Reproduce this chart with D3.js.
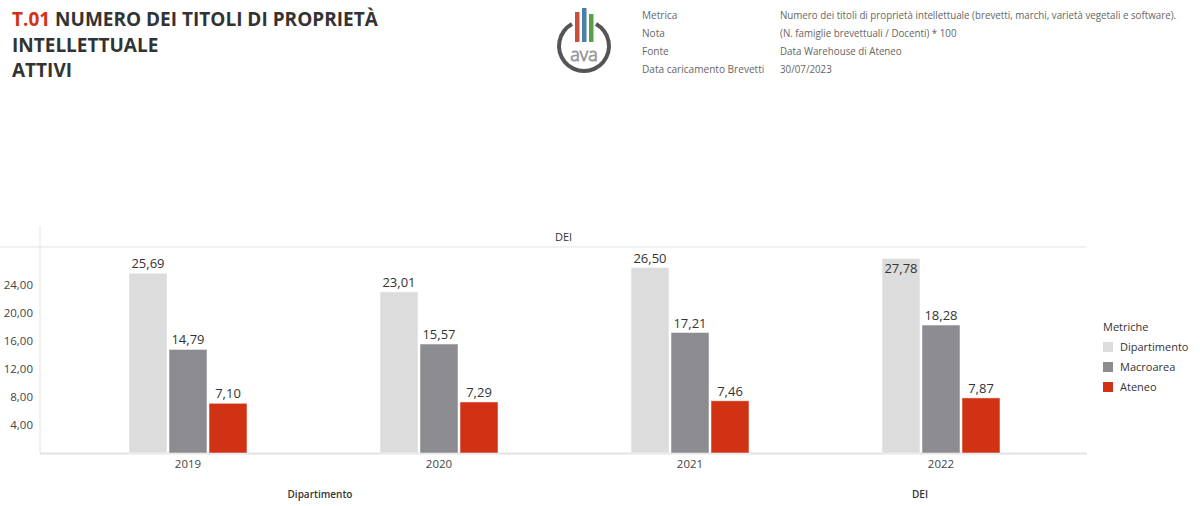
<!DOCTYPE html>
<html><head><meta charset="utf-8">
<script src="https://cdn.jsdelivr.net/npm/d3@7"></script>
<style>body{margin:0;background:#fff;font-family:"Open Sans",sans-serif;}</style>
</head><body><svg id="c" width="1200" height="506"></svg>
<script>
const years = ["2019","2020","2021","2022"];
const metrics = ["Dipartimento","Macroarea","Ateneo"];
const dipartimento = [25.69, 23.01, 26.50, 27.78];
const macroarea = [14.79, 15.57, 17.21, 18.28];
const ateneo = [7.10, 7.29, 7.46, 7.87];
const yTicks = [4, 8, 12, 16, 20, 24];
const colors = ["#dcdcdc", "#8c8c90", "#d13214"];
const metaLabels = ["Metrica","Nota","Fonte","Data caricamento Brevetti"];
const metaValues = ["Numero dei titoli di proprietà intellettuale (brevetti, marchi, varietà vegetali e software).","(N. famiglie brevettuali / Docenti) * 100","Data Warehouse di Ateneo","30/07/2023"];

(function(){
const series = [dipartimento, macroarea, ateneo];
const data = years.map((yr,i)=>({year:yr, vals: metrics.map((m,j)=>({metric:m, idx:j, v:series[j][i]}))}));
const fmt = v => d3.format(".2f")(v).replace(".", ",");

const svg = d3.select("#c");

// Title
const t = svg.append("g").attr("font-weight",700).attr("font-size",19).attr("fill","#333");
const l1 = t.append("text").attr("x",12).attr("y",26);
l1.append("tspan").attr("fill","#d13214").text("T.01");
l1.append("tspan").text(" NUMERO DEI TITOLI DI PROPRIETÀ");
t.append("text").attr("x",12).attr("y",52).text("INTELLETTUALE");
t.append("text").attr("x",12).attr("y",77).text("ATTIVI");

// Logo
const lg = svg.append("g");
const cx=584, cy=46, r=25;
lg.append("path").attr("d", d3.arc()({innerRadius:r-2, outerRadius:r+2, startAngle:0.5, endAngle:2*Math.PI-0.5}))
  .attr("transform",`translate(${cx},${cy})`).attr("fill","#555");
[["#c8503a",577,12],["#4a7fa8",584,8],["#5aa04a",591,14]].forEach(([c,x,y0])=>{
  lg.append("rect").attr("x",x-2).attr("y",y0).attr("width",4.5).attr("height",42-y0).attr("fill",c);
});
lg.append("text").attr("x",cx).attr("y",cy+15).attr("text-anchor","middle").attr("font-size",18)
  .attr("fill","none").attr("stroke","#999").attr("stroke-width",0.9).attr("font-weight",300).text("ava");

// Meta
const meta = svg.append("g").attr("font-size",10.5).attr("fill","#666");
metaLabels.forEach((l,i)=>{
  const yy = 19+i*18;
  meta.append("text").attr("transform",`translate(642,${yy}) scale(0.96,1)`).text(l);
  meta.append("text").attr("transform",`translate(780,${yy}) scale(0.93,1)`).text(metaValues[i]);
});

// Chart
const pL=40, pR=1087, pT=247, pB=453;
const y = d3.scaleLinear().domain([0, (pB-pT)/7]).range([pB, pT]);
const x0 = d3.scaleBand().domain(years).range([62.5, 1066.5]);
const bw = 38, gap = 2;
const x1 = d3.scaleBand().domain(metrics).range([x0.bandwidth()/2 - (3*bw+2*gap)/2, x0.bandwidth()/2 + (3*bw+2*gap)/2]).paddingInner(gap/(bw+gap));

svg.append("line").attr("x1",0).attr("x2",pR).attr("y1",pT).attr("y2",pT).attr("stroke","#e3e3e3");
svg.append("line").attr("x1",pL).attr("x2",pL).attr("y1",226).attr("y2",pB).attr("stroke","#e3e3e3");
svg.append("line").attr("x1",pL).attr("x2",pR).attr("y1",pB+0.5).attr("y2",pB+0.5).attr("stroke","#e3e3e3").attr("stroke-width",2);
svg.append("text").attr("x",(pL+pR)/2).attr("y",241).attr("text-anchor","middle").attr("font-size",11).attr("fill","#333").text("DEI");

const ya = svg.append("g").attr("transform",`translate(${pL},0)`)
  .call(d3.axisLeft(y).tickValues(yTicks).tickFormat(fmt).tickSize(0).tickPadding(7));
ya.select(".domain").remove();
ya.selectAll("text").attr("font-size",11.5).attr("fill","#444").attr("font-family","Open Sans");

const xa = svg.append("g").attr("transform",`translate(0,${pB})`)
  .call(d3.axisBottom(x0).tickSize(0).tickPadding(7));
xa.select(".domain").remove();
xa.selectAll("text").attr("font-size",11.5).attr("fill","#444").attr("font-family","Open Sans");

const g = svg.selectAll(".grp").data(data).join("g").attr("transform",d=>`translate(${x0(d.year)},0)`);
g.selectAll("rect").data(d=>d.vals).join("rect")
  .attr("x",d=>x1(d.metric)).attr("width",x1.bandwidth())
  .attr("y",d=>y(d.v)).attr("height",d=>pB-y(d.v))
  .attr("fill",d=>colors[d.idx]).attr("stroke","#fff").attr("stroke-opacity",0.5).attr("stroke-width",1);
g.selectAll("text.v").data(d=>d.vals).join("text").attr("class","v")
  .attr("x",d=>x1(d.metric)+x1.bandwidth()/2)
  .attr("y",d=> (y(d.v)-pT < 16) ? y(d.v)+14 : y(d.v)-5)
  .attr("text-anchor","middle").attr("font-size",13).attr("fill","#333").text(d=>fmt(d.v));

svg.append("text").attr("x",320).attr("y",498).attr("text-anchor","middle").attr("font-size",10).attr("font-weight",600).attr("fill","#333").text("Dipartimento");
svg.append("text").attr("x",920).attr("y",498).attr("text-anchor","middle").attr("font-size",10).attr("font-weight",600).attr("fill","#333").text("DEI");

const leg = svg.append("g").attr("font-size",11).attr("fill","#333");
leg.append("text").attr("x",1103).attr("y",331).text("Metriche");
metrics.forEach((m,i)=>{
  leg.append("rect").attr("x",1103).attr("y",342+i*20).attr("width",10).attr("height",10).attr("fill",colors[i]);
  leg.append("text").attr("x",1120).attr("y",351+i*20).text(m);
});
})();
</script></body></html>
